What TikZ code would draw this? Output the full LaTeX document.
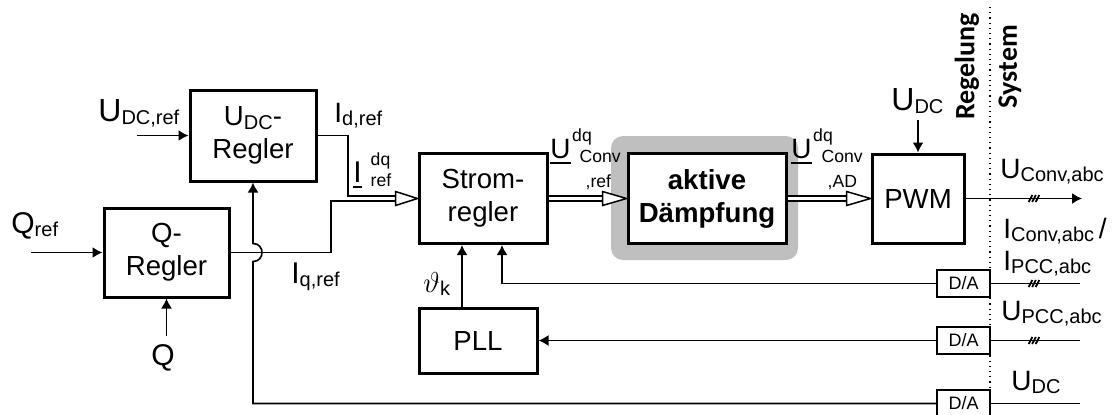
\documentclass[tikz,border=0pt]{standalone}
\usepackage{fontspec}
\setmainfont{Liberation Sans}
\newfontfamily\calib{Carlito}
\usetikzlibrary{calc,arrows.meta}
\newcommand\smf{\fontsize{10}{12}\selectfont}
\newcommand\stf{\fontsize{8.8}{10}\selectfont}
\newcommand\sbs[1]{\raisebox{-1.8pt}{\smf #1}}
\newcommand\uline[1]{\sbox0{#1}\rlap{\rule[-3.2pt]{\wd0}{1.1pt}}\usebox0}
\newcommand\ustk[2]{\uline{U}\makebox[0pt][l]{\kern0.8pt\raisebox{8.5pt}{\stf dq}}\makebox[0pt][l]{\kern#2\raisebox{-2pt}{\stf Conv}}\kern#2\kern3pt\raisebox{-14.5pt}{\stf #1}}
\begin{document}
\begin{tikzpicture}[x=0.5pt,y=-0.5pt,
 blk/.style={draw, line width=1.5pt, align=center, inner sep=0, font=\fontsize{13.8}{16.5}\selectfont},
 dabox/.style={draw, line width=0.75pt, minimum width=26.5pt, minimum height=13.5pt, inner sep=0, font=\fontsize{9}{10}\selectfont},
 sig/.style={line width=0.8pt},
 arr/.style={sig, -{Latex[length=5pt,width=5.5pt]}},
 dbl/.style={line width=0.75pt, double, double distance=1.75pt},
 htip/.style={line width=0.75pt, fill=white, line join=miter},
 lab/.style={anchor=base west, inner sep=0, font=\fontsize{15}{18}\selectfont},
 rlab/.style={lab, font=\fontsize{14}{17}\selectfont},
 biglab/.style={lab, font=\fontsize{16}{18}\selectfont},
 sepline/.style={line width=0.6pt, dotted},
 vlab/.style={rotate=90, font=\calib\bfseries\fontsize{14}{16}\selectfont, inner sep=0},
 ticks/.style={line width=0.9pt}
]
\clip (0,0) rectangle (1113,414);

% grey background of the damping block
\node[fill=black!25, rounded corners=6pt, minimum width=93.5pt, minimum height=62pt, inner sep=0] (shade) at (704.5,198) {};

% blocks
\node[blk, minimum width=63pt, minimum height=45.5pt] (udc) at (253,135.5) {U\sbs{DC}-\\Regler};
\node[blk, minimum width=62.5pt, minimum height=44.5pt] (qreg) at (166.5,252.5) {Q-\\Regler};
\node[blk, minimum width=64pt, minimum height=45pt] (strom) at (483,198.5) {Strom-\\regler};
\node[blk, minimum width=79pt, minimum height=45pt, fill=white, font=\fontsize{13.8}{16.5}\selectfont\bfseries] (akt) at (707,198.5) {aktive\\Dämpfung};
\node[blk, minimum width=59pt, minimum height=32.5pt] (pll) at (478,340.5) {PLL};
\node[blk, minimum width=46pt, minimum height=44.5pt] (pwm) at (918,198.5) {PWM};
\node[dabox] (da1) at (963.5,283.5) {D/A};
\node[dabox] (da2) at (963.5,340.5) {D/A};
\node[dabox] (da3) at (963.5,403.5) {D/A};

% free ends and bends
\coordinate (udcref) at (137,135.5);
\coordinate (qrefin) at (31,252.5);
\coordinate (qin) at (166.5,336);
\coordinate (udctop) at (918,120);
\coordinate (k1) at (348,135.5);
\coordinate (k2) at (348,196);
\coordinate (k3) at (331,252.5);
\coordinate (k4) at (331,201);
\coordinate (fb) at (502,283.5);
\coordinate (th) at (462,0);
\coordinate (o1) at (1082,198.5);
\coordinate (e1) at (1080,283.5);
\coordinate (e2) at (1080,340.5);
\coordinate (e3) at (1080,403.5);
\coordinate (hop) at (qreg.east -| udc.south);

% connectors
\draw[arr] (udcref) -- (udc.west);
\draw[arr] (qrefin) -- (qreg.west);
\draw[arr] (qin) -- (qreg.south);
\draw[arr] (udctop) -- (pwm.north);
\draw[sig] (udc.east) -- (k1) -- (k2) -- ($(strom.west)+(-22,-2.5)$);
\draw[sig] (qreg.east) -- (k3) -- (k4) -- ($(strom.west)+(-22,2.5)$);
\draw[htip] ($(strom.west)+(-22,-7)$) -- (strom.west) -- ($(strom.west)+(-22,7)$) -- cycle;
\draw[dbl] (strom.east) -- ($(akt.west)+(-23,0)$);
\draw[htip] ($(akt.west)+(-24,-7)$) -- (akt.west) -- ($(akt.west)+(-24,7)$) -- cycle;
\draw[dbl] (akt.east) -- ($(pwm.west)+(-23,0)$);
\draw[htip] ($(pwm.west)+(-24,-7)$) -- (pwm.west) -- ($(pwm.west)+(-24,7)$) -- cycle;
\draw[arr] (pwm.east) -- (o1);
\draw[sig] (da1.east) -- (e1);
\draw[sig] (da2.east) -- (e2);
\draw[sig] (da3.east) -- (e3);
\draw[arr] (da1.west) -- (fb) -- (strom.south -| fb);
\draw[arr] (da2.west) -- (pll.east);
\draw[arr] (pll.north -| th) -- (strom.south -| th);
\draw[arr] (da3.west) -- (da3.west -| udc.south) -- ($(hop)+(0,9)$)
   .. controls ($(hop)+(12,9)$) and ($(hop)+(12,-9)$) .. ($(hop)+(0,-9)$) -- (udc.south);

% three-phase marks
\foreach \yy in {198.5,283.5,340.5}
  \foreach \i in {-3.5,0,3.5}
    \draw[ticks] (1034+\i-1.8,\yy+3.5) -- (1034+\i+1.8,\yy-3.5);

% separation line
\draw[sepline] (990,7) -- (990,414);
\node[vlab] (tReg) at (967,66.5) {Regelung};
\node[vlab] (tSys) at (1010,66.5) {System};

% labels
\node[biglab] (lUdcref) at (98,121) {U\sbs{DC,ref}};
\node[lab, font=\fontsize{14}{17}\selectfont] (lId) at (334,122) {I\sbs{d,ref}};
\node[lab] (lQref) at (11,233) {Q\sbs{ref}};
\node[lab] (lQ) at (151,365) {Q};
\node[lab] (lIq) at (291,283) {I\sbs{q,ref}};
\node[lab] (lIdq) at (353,182) {\uline{I}\kern4.5pt\makebox[0pt][l]{\raisebox{8.5pt}{\stf dq}}\raisebox{-2pt}{\stf ref}};
\node[rlab] (lUcr) at (550,158) {\ustk{,ref}{4.5pt}};
\node[rlab] (lUad) at (791,158) {\ustk{,AD}{5pt}};
\node[lab] (lth) at (423,292) {$\vartheta$\sbs{k}};
\node[biglab] (lUdc) at (891,110) {U\sbs{DC}};
\node[rlab] (lUconv) at (1000,178) {U\sbs{Conv,abc}};
\node[rlab] (lIconv) at (1003,238) {I\sbs{Conv,abc}\,/};
\node[rlab] (lIpcc) at (1003,270) {I\sbs{PCC,abc}};
\node[rlab] (lUpcc) at (1001,320) {U\sbs{PCC,abc}};
\node[rlab] (lUdc2) at (1011,390) {U\sbs{DC}};
\end{tikzpicture}
\end{document}
